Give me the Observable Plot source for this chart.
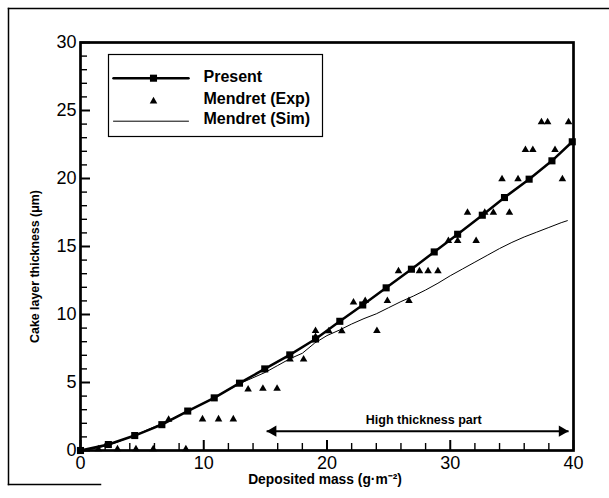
<!DOCTYPE html>
<html><head><meta charset="utf-8">
<script src="https://cdn.jsdelivr.net/npm/d3@7"></script>
<script src="https://cdn.jsdelivr.net/npm/@observablehq/plot@0.6"></script>
<style>
body{margin:0;background:#fff;}
#chart svg{display:block;}
</style></head><body><div id="chart"></div>
<script>
const presentX = [0, 2.26, 4.4, 6.6, 8.7, 10.85, 12.9, 14.95, 16.98, 19.07, 21.04, 22.9, 24.8, 26.85, 28.7, 30.6, 32.6, 34.4, 36.4, 38.25, 39.9];
const presentY = [0, 0.44, 1.1, 1.9, 2.9, 3.87, 4.95, 6.0, 7.03, 8.2, 9.5, 10.7, 11.96, 13.33, 14.6, 15.9, 17.3, 18.6, 19.95, 21.3, 22.7];
const expX = [1.45, 3.0, 4.5, 5.9, 7.15, 8.55, 9.9, 11.2, 12.4, 13.6, 14.8, 15.95, 17.0, 18.1, 19.07, 19.07, 20.15, 21.2, 24.05, 22.15, 23.1, 24.9, 26.65, 25.8, 27.5, 28.2, 29.0, 29.85, 30.6, 32.1, 31.4, 32.8, 33.5, 34.8, 34.2, 35.5, 39.1, 36.1, 36.7, 38.5, 37.4, 37.9, 39.6];
const expY = [0.1, 0.1, 0.1, 0.1, 2.28, 0.1, 2.3, 2.3, 2.3, 4.5, 4.55, 4.55, 6.7, 6.7, 8.8, 8.35, 8.78, 8.78, 8.8, 10.9, 11.0, 11.0, 11.0, 13.2, 13.2, 13.2, 13.2, 15.42, 15.42, 15.42, 17.5, 17.5, 17.5, 17.5, 19.95, 19.95, 19.95, 22.1, 22.1, 22.1, 24.15, 24.15, 24.15];
const simX = [0, 1, 2, 3, 4, 5, 6, 7, 8, 9, 10, 11, 12, 13, 14, 15, 16, 17, 18, 19, 20, 21, 22, 23, 24, 25, 26, 27, 28, 29, 30, 31, 32, 33, 34, 35, 36, 37, 38, 39, 39.5];
const simY = [0, 0.12, 0.32, 0.62, 0.98, 1.35, 1.75, 2.15, 2.6, 3.05, 3.5, 3.95, 4.45, 4.95, 5.35, 5.75, 6.25, 6.75, 7.15, 7.9, 8.45, 8.85, 9.3, 9.7, 10.05, 10.5, 10.95, 11.35, 11.8, 12.3, 12.85, 13.35, 13.85, 14.35, 14.85, 15.3, 15.7, 16.05, 16.4, 16.75, 16.9];

const xMajorTicks = [0, 10, 20, 30, 40];
const xMinorTicks = [2, 4, 6, 8, 12, 14, 16, 18, 22, 24, 26, 28, 32, 34, 36, 38];
const yMajorTicks = [0, 5, 10, 15, 20, 25, 30];
const yMinorTicks = [1, 2, 3, 4, 6, 7, 8, 9, 11, 12, 13, 14, 16, 17, 18, 19, 21, 22, 23, 24, 26, 27, 28, 29];

const legendLabels = ["Present", "Mendret (Exp)", "Mendret (Sim)"];
const xTitle = "Deposited mass (g·m⁻²)";
const yTitle = "Cake layer thickness (μm)";
const annotationLabel = ["High thickness part"];
const annotationSpan = [15.1, 39.6];
const annotationLevel = [1.42];
const annotationLabelX = [27.85];

const present = presentX.map((x, i) => ({x, y: presentY[i]}));
const exp = expX.map((x, i) => ({x, y: expY[i]}));
const sim = simX.map((x, i) => ({x, y: simY[i]}));
const arrowRow = [{x1: annotationSpan[0], x2: annotationSpan[1], y: annotationLevel[0]}];

const font = "'Liberation Sans', Arial, Helvetica, sans-serif";
const lineShape = {draw(ctx, l) { ctx.moveTo(0, 0); ctx.lineTo(0, -l); }};

const W = 609, H = 498, ML = 80, MR = 36, MT = 42, MB = 48;
const frameW = W - ML - MR, frameH = H - MT - MB;
const legendRows = [35.7, 58.7, 78.7];
const legendTextRows = [34.7, 56.8, 76.8];
const tickColor = "#000";

const chart = Plot.plot({
  width: W, height: H,
  marginLeft: ML, marginRight: MR, marginTop: MT, marginBottom: MB,
  style: {fontFamily: font, background: "#fff", color: "#000"},
  x: {domain: [0, 40]},
  y: {domain: [0, 30]},
  marks: [
    Plot.frame({anchor: "top", insetTop: -34, insetLeft: -72, insetRight: -40, stroke: "#000", strokeWidth: 1.5}),
    Plot.frame({anchor: "left", insetTop: -34, insetLeft: -72, insetBottom: -34, stroke: "#000", strokeWidth: 1.5}),
    Plot.frame({anchor: "bottom", insetBottom: -34, insetLeft: -72, insetRight: 473, stroke: "#000", strokeWidth: 1.5}),
    Plot.axisX({ticks: xMajorTicks, tickSize: 0, tickPadding: 5.5, fontSize: 18, label: null}),
    Plot.axisY({ticks: yMajorTicks, tickSize: 0, tickPadding: 4, fontSize: 18, label: null}),
    Plot.text([yTitle], {frameAnchor: "left", text: d => d, textAnchor: "middle", rotate: -90, dx: -45, dy: 20, fontSize: 12.4, fontWeight: "bold", fill: "#000"}),
    Plot.text([xTitle], {frameAnchor: "bottom", text: d => d, textAnchor: "middle", dx: -2, dy: 33, fontSize: 13.8, fontWeight: "bold", fill: "#000"}),
    Plot.line(sim, {x: "x", y: "y", stroke: "#000", strokeWidth: 1}),
    Plot.line(present, {x: "x", y: "y", stroke: "#000", strokeWidth: 2.5}),
    Plot.dot(present, {x: "x", y: "y", symbol: "square", r: 4, fill: "#000", stroke: "none"}),
    Plot.dot(exp, {x: "x", y: "y", symbol: "triangle", r: 2.8, fill: "#000", stroke: "none"}),
    Plot.link(arrowRow, {x1: "x1", x2: "x2", y1: "y", y2: "y", stroke: "#000", strokeWidth: 2}),
    Plot.dot(arrowRow, {x: "x2", y: "y", symbol: "triangle", rotate: 90, r: 4.2, dx: -6.5, fill: "#000", stroke: "none"}),
    Plot.dot(arrowRow, {x: "x1", y: "y", symbol: "triangle", rotate: -90, r: 4.2, dx: 6.5, fill: "#000", stroke: "none"}),
    Plot.text(annotationLabel, {x: () => annotationLabelX[0], y: () => annotationLevel[0], text: d => d, dy: -11, fontSize: 12.5, fontWeight: "bold", fill: "#000"}),
    Plot.frame({stroke: "#000", strokeWidth: 2.7}),
    // inward ticks (drawn after the frame)
    Plot.tickX(xMinorTicks, {x: d => d, insetTop: frameH - 7, stroke: tickColor, strokeWidth: 1.4}),
    Plot.tickX(xMajorTicks, {x: d => d, insetTop: frameH - 10, stroke: tickColor, strokeWidth: 2}),
    Plot.tickY(yMinorTicks, {y: d => d, insetRight: frameW - 7, stroke: tickColor, strokeWidth: 1.4}),
    Plot.tickY(yMajorTicks, {y: d => d, insetRight: frameW - 10, stroke: tickColor, strokeWidth: 2}),
    Plot.frame({insetLeft: 28, insetTop: 12, insetRight: 251, insetBottom: 314, fill: "#fff", stroke: "#000", strokeWidth: 1.2}),
    Plot.vector([0], {frameAnchor: "top-left", dx: 33, dy: legendRows[0], length: 75, rotate: 90, anchor: "start", shape: lineShape, stroke: "#000", strokeWidth: 2.5}),
    Plot.dot([0], {frameAnchor: "top-left", dx: 73, dy: legendRows[0], symbol: "square", r: 4, fill: "#000", stroke: "none"}),
    Plot.dot([0], {frameAnchor: "top-left", dx: 73, dy: legendRows[1], symbol: "triangle", r: 2.8, fill: "#000", stroke: "none"}),
    Plot.vector([0], {frameAnchor: "top-left", dx: 33, dy: legendRows[2], length: 75, rotate: 90, anchor: "start", shape: lineShape, stroke: "#000", strokeWidth: 1}),
    ...legendLabels.map((lab, i) => Plot.text([lab], {frameAnchor: "top-left", text: d => d, dx: 123, dy: legendTextRows[i], textAnchor: "start", lineAnchor: "middle", fontSize: 16, fontWeight: "bold", fill: "#000"}))
  ]
});
document.getElementById("chart").appendChild(chart);
</script></body></html>
